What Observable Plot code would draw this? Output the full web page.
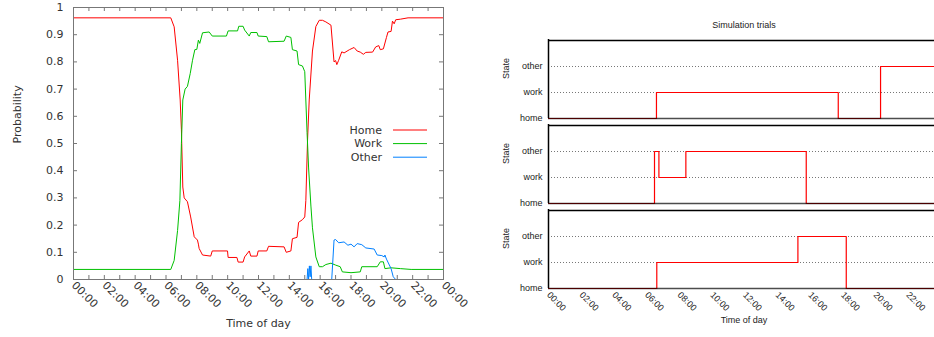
<!DOCTYPE html>
<html>
<head>
<meta charset="utf-8">
<script src="https://cdn.jsdelivr.net/npm/d3@7"></script>
<script src="https://cdn.jsdelivr.net/npm/@observablehq/plot@0.6"></script>
<style>
  html, body { margin: 0; padding: 0; background: #fff; }
  #wrap { position: relative; width: 934px; height: 337px; overflow: hidden; background: #fff; }
  #left { position: absolute; left: 0; top: 0; }
  #right { position: absolute; left: 470px; top: 0; }
  .lbl { position: absolute; font-family: "Liberation Sans", Arial, sans-serif; font-size: 9px; color: #222; text-align: center; white-space: nowrap; }
  #rtitle { left: 644px; top: 20px; width: 200px; }
  #rxlabel { left: 644px; top: 315px; width: 200px; }
</style>
</head>
<body>
<div id="wrap">
  <div id="left"></div>
  <div id="right"></div>
  <div class="lbl" id="rtitle">Simulation trials</div>
  <div class="lbl" id="rxlabel">Time of day</div>
</div>
<script>
// ---------- Left chart data (hours of day, probability) ----------
const seriesNames = ["Home", "Work", "Other"];
const seriesColors = ["#ff0000", "#00c000", "#0080ff"];

const homeTime = [0, 6.31, 6.53, 6.75, 6.92, 7.0, 7.09, 7.18, 7.39, 7.6, 7.83, 8.04, 8.1, 8.15, 8.37, 8.9, 9.0, 9.99, 10.03, 10.6, 10.68, 11.0, 11.1, 11.4, 11.5, 11.9, 11.98, 12.54, 12.65, 13.66, 13.8, 14.1, 14.2, 14.5, 14.6, 14.85, 15.0, 15.07, 15.18, 15.29, 15.5, 15.72, 15.94, 16.15, 16.37, 16.7, 16.9, 17.0, 17.08, 17.2, 17.4, 17.55, 17.9, 18.2, 18.4, 18.6, 18.8, 18.96, 19.4, 19.6, 19.8, 19.9, 20.1, 20.3, 20.4, 20.6, 20.69, 20.8, 20.9, 21.2, 21.7, 24];
const homeProb = [0.962, 0.962, 0.929, 0.806, 0.66, 0.55, 0.34, 0.30, 0.286, 0.23, 0.157, 0.145, 0.13, 0.114, 0.09, 0.086, 0.105, 0.105, 0.081, 0.081, 0.064, 0.064, 0.083, 0.105, 0.086, 0.086, 0.105, 0.105, 0.122, 0.12, 0.10, 0.105, 0.15, 0.155, 0.21, 0.22, 0.23, 0.29, 0.51, 0.66, 0.84, 0.93, 0.953, 0.953, 0.947, 0.935, 0.80, 0.805, 0.79, 0.806, 0.837, 0.833, 0.845, 0.853, 0.84, 0.836, 0.828, 0.835, 0.836, 0.855, 0.86, 0.845, 0.848, 0.89, 0.91, 0.912, 0.95, 0.94, 0.955, 0.957, 0.962, 0.962];

const workTime = [0, 6.31, 6.53, 6.75, 6.9, 7.0, 7.09, 7.24, 7.39, 7.57, 7.72, 7.87, 8.0, 8.1, 8.19, 8.37, 8.8, 9.0, 9.92, 10.03, 10.64, 10.72, 11.0, 11.1, 11.4, 11.5, 11.9, 11.98, 12.54, 12.65, 13.66, 13.8, 14.1, 14.2, 14.5, 14.6, 14.85, 15.0, 15.15, 15.25, 15.4, 15.5, 15.72, 15.94, 16.15, 16.37, 16.7, 17.0, 17.3, 17.44, 18.0, 18.6, 18.7, 19.7, 19.9, 20.1, 20.2, 20.6, 21.2, 21.9, 24];
const workProb = [0.037, 0.037, 0.07, 0.18, 0.29, 0.5, 0.66, 0.70, 0.71, 0.757, 0.806, 0.845, 0.846, 0.88, 0.868, 0.907, 0.91, 0.895, 0.895, 0.914, 0.914, 0.931, 0.931, 0.917, 0.895, 0.908, 0.908, 0.895, 0.893, 0.874, 0.876, 0.895, 0.89, 0.845, 0.84, 0.79, 0.785, 0.764, 0.54, 0.41, 0.27, 0.19, 0.083, 0.047, 0.047, 0.055, 0.06, 0.053, 0.047, 0.028, 0.025, 0.028, 0.047, 0.047, 0.065, 0.065, 0.04, 0.043, 0.04, 0.037, 0.037];

const otherTime = [0, 15.15, 15.2, 15.25, 15.3, 15.35, 15.4, 15.45, 16.75, 16.9, 17.0, 17.2, 17.55, 17.8, 18.0, 18.2, 18.4, 18.7, 18.96, 19.5, 19.7, 20.0, 20.15, 20.2, 20.3, 20.6, 20.74, 20.9, 24];
const otherProb = [0, 0, 0.04, 0, 0.05, 0.01, 0.05, 0, 0, 0.145, 0.147, 0.135, 0.138, 0.126, 0.13, 0.12, 0.132, 0.128, 0.116, 0.112, 0.09, 0.088, 0.083, 0.09, 0.075, 0.04, 0.01, 0, 0];

const leftXTicks = [0, 2, 4, 6, 8, 10, 12, 14, 16, 18, 20, 22, 24];
const leftMinorTicks = d3.range(0, 25);
const leftYTicks = [0, 0.1, 0.2, 0.3, 0.4, 0.5, 0.6, 0.7, 0.8, 0.9, 1];

// ---------- Right chart data (simulation trials) ----------
const stateDomain = ["top", "other", "work", "home"];
const trialIds = [1, 2, 3];
const trial1Time = [0, 6.61, 17.74, 20.33, 24];
const trial1State = ["home", "work", "home", "other", "other"];
const trial2Time = [0, 6.49, 6.76, 8.41, 15.78, 24];
const trial2State = ["home", "other", "work", "other", "home", "home"];
const trial3Time = [0, 6.63, 15.27, 18.23, 24];
const trial3State = ["home", "work", "other", "home", "home"];
const rightXTicks = [0, 2, 4, 6, 8, 10, 12, 14, 16, 18, 20, 22];

const fmtHour = h => String(h % 24).padStart(2, "0") + ":00";

// ---------- Build left chart ----------
const series = [
  {name: "Home", time: homeTime, prob: homeProb},
  {name: "Work", time: workTime, prob: workProb},
  {name: "Other", time: otherTime, prob: otherProb}
];
const probRows = series.flatMap(s => s.time.map((t, j) => ({series: s.name, time: t, prob: s.prob[j]})));

function legendMark(index, scales, values, dims) {
  const g = d3.create("svg:g")
    .attr("font-family", "DejaVu Sans, sans-serif")
    .attr("font-size", 11);
  seriesNames.forEach((name, i) => {
    const y = dims.marginTop + 123 + i * 13.6;
    const x0 = dims.marginLeft;
    g.append("text").attr("x", x0 + 309).attr("y", y).attr("dy", "0.35em")
      .attr("text-anchor", "end").attr("fill", "#333").text(name);
    g.append("line").attr("x1", x0 + 320).attr("x2", x0 + 354).attr("y1", y).attr("y2", y)
      .attr("stroke", seriesColors[i]).attr("stroke-width", 1);
  });
  return g.node();
}

const frameH = 337 - 7 - 58;
const frameW = 470 - 73 - 27;

const left = Plot.plot({
  width: 470, height: 337,
  marginLeft: 73, marginRight: 27, marginTop: 7, marginBottom: 58,
  style: {fontFamily: "DejaVu Sans, sans-serif", fontSize: "11px", color: "#333", background: "white", overflow: "visible"},
  x: {domain: [0, 24], ticks: leftXTicks, tickFormat: fmtHour, tickRotate: 45, tickSize: 0, tickPadding: 4, label: null},
  y: {domain: [0, 1], ticks: leftYTicks, tickFormat: d => d3.format("~g")(d), tickSize: 0, tickPadding: 10, label: null},
  color: {domain: seriesNames, range: seriesColors},
  marks: [
    Plot.tickX(leftMinorTicks, {x: d => d, insetTop: frameH - 4, stroke: "#777"}),
    Plot.tickX(leftMinorTicks, {x: d => d, insetBottom: frameH - 4, stroke: "#777"}),
    Plot.tickY(leftYTicks, {y: d => d, insetRight: frameW - 4, stroke: "#777"}),
    Plot.tickY(leftYTicks, {y: d => d, insetLeft: frameW - 4, stroke: "#777"}),
    Plot.line(probRows, {x: "time", y: "prob", z: "series", stroke: "series", strokeWidth: 1}),
    Plot.frame({stroke: "#777"}),
    legendMark,
    Plot.text(["Probability"], {frameAnchor: "left", dx: -56, rotate: -90, fontSize: 11}),
    Plot.text(["Time of day"], {frameAnchor: "bottom", dy: 47, fontSize: 11})
  ]
});
document.getElementById("left").append(left);

// ---------- Build right chart ----------
const trials = [
  {id: 1, time: trial1Time, state: trial1State},
  {id: 2, time: trial2Time, state: trial2State},
  {id: 3, time: trial3Time, state: trial3State}
];
const trialRows = trials.flatMap(tr => tr.time.map((t, j) => ({trial: tr.id, time: t, state: tr.state[j]})));

const right = Plot.plot({
  width: 464, height: 337,
  marginLeft: 78, marginRight: 0, marginTop: 39, marginBottom: 49,
  style: {fontFamily: "Liberation Sans, Arial, sans-serif", fontSize: "9px", color: "#222", background: "transparent", overflow: "visible"},
  facet: {data: trialRows, y: "trial"},
  fy: {domain: trialIds, paddingInner: 0.074, paddingOuter: 0, axis: null, label: null},
  x: {domain: [0, 24], range: [78, 470], ticks: rightXTicks, tickFormat: fmtHour, tickRotate: 45, tickSize: 0, tickPadding: 5, label: null},
  y: {type: "point", domain: stateDomain, padding: 0, tickSize: 0, tickPadding: 6, tickFormat: d => d === "top" ? "" : d, label: null},
  marks: [
    Plot.ruleY(["work", "other"], {stroke: "#777", strokeDasharray: "1,2"}),
    Plot.line(trialRows, {x: "time", y: "state", z: "trial", curve: "step-after", stroke: "#ff0000", strokeWidth: 1.2}),
    Plot.ruleY(["top"], {stroke: "#000", strokeWidth: 1.5}),
    Plot.ruleY(["home"], {stroke: "#000", strokeWidth: 1.5, strokeOpacity: 0.7}),
    Plot.ruleX([0], {stroke: "#000", strokeWidth: 1.5}),
    Plot.text(["State"], {frameAnchor: "left", dx: -42, rotate: -90})
  ]
});
document.getElementById("right").append(right);
</script>
</body>
</html>
